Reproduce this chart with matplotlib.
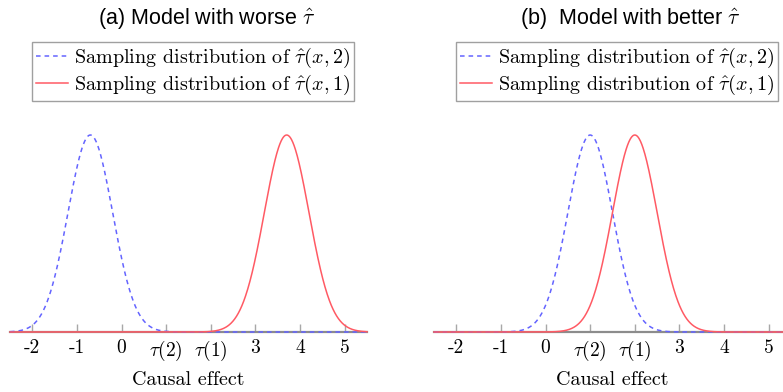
import numpy as np
import matplotlib
matplotlib.use("Agg")
import matplotlib.pyplot as plt

# ---- data ----
panel_titles = [r"(a) Model with worse $\hat{\tau}$", r"(b)  Model with better $\hat{\tau}$"]
series_labels = [r"Sampling distribution of $\hat{\tau}(x,2)$",
                 r"Sampling distribution of $\hat{\tau}(x,1)$"]
# mean / sd of the sampling distribution of tau_hat(x,2) and tau_hat(x,1), per panel
means_tau2 = [-0.7, 1.0]
means_tau1 = [3.7, 2.0]
sd_tau2 = [0.5, 0.5]
sd_tau1 = [0.5, 0.5]
tick_values = [-2, -1, 0, 1, 2, 3, 4, 5]
tick_labels = ["-2", "-1", "0", r"$\tau(2)$", r"$\tau(1)$", "3", "4", "5"]
x_label = "Causal effect"

plt.rcParams["mathtext.fontset"] = "cm"
plt.rcParams["axes.unicode_minus"] = False

W, H = 783, 392
fig = plt.figure(figsize=(W / 100, H / 100), dpi=100)

def fx(px):
    return px / W

def fy(py):
    return 1 - py / H

blue = "#6464ff"
red = "#ff5a64"
gray = "#8c8c8c"

axes_left_px = [10, 434]
ax_w_px = 357
base_py = 332
top_py = 40
ylim_top = 0.7979 / ((base_py - 135) / (base_py - top_py))

title_cx = [207, 630]
legend_left_px = [32, 456]

for i in range(2):
    ax = fig.add_axes([fx(axes_left_px[i]), fy(base_py), fx(ax_w_px), (base_py - top_py) / H])
    xs = np.linspace(-2.5, 5.5, 800)
    pdf2 = np.exp(-0.5 * ((xs - means_tau2[i]) / sd_tau2[i]) ** 2) / (sd_tau2[i] * np.sqrt(2 * np.pi))
    pdf1 = np.exp(-0.5 * ((xs - means_tau1[i]) / sd_tau1[i]) ** 2) / (sd_tau1[i] * np.sqrt(2 * np.pi))
    l2, = ax.plot(xs, pdf2, color=blue, lw=1.1, zorder=3, label=series_labels[0], clip_on=False)
    l2.set_dashes([3.0, 2.6])
    l1, = ax.plot(xs, pdf1, color=red, lw=1.1, zorder=4, label=series_labels[1], clip_on=False)
    ax.set_xlim(-2.5, 5.5)
    ax.set_ylim(0, ylim_top)
    for s in ["left", "right", "top"]:
        ax.spines[s].set_visible(False)
    ax.spines["bottom"].set_color(gray)
    ax.spines["bottom"].set_linewidth(1.6)
    ax.set_yticks([])
    ax.set_xticks(tick_values)
    ax.set_xticklabels(tick_labels, family="cmr10", fontsize=14)
    ax.tick_params(axis="x", direction="in", length=5.5, width=1, color="#a8a8a8", pad=5)
    ax.set_xlabel(x_label, family="cmr10", fontsize=14.5, labelpad=6)
    ax.patch.set_alpha(0)

    leg = ax.legend(handles=[l2, l1], loc="upper left",
                    bbox_to_anchor=(fx(legend_left_px[i]), fy(42)),
                    bbox_transform=fig.transFigure,
                    prop={"family": "cmr10", "size": 14.5},
                    frameon=True, fancybox=False, edgecolor="#888888",
                    handlelength=1.6, handletextpad=0.3, borderpad=0.2,
                    labelspacing=0.12, borderaxespad=0)
    leg.get_frame().set_linewidth(1.0)

    fig.text(fx(title_cx[i]), fy(19), panel_titles[i], ha="center", va="center",
             family="Liberation Sans", fontsize=15.5)

fig.savefig("out.png", dpi=100)
